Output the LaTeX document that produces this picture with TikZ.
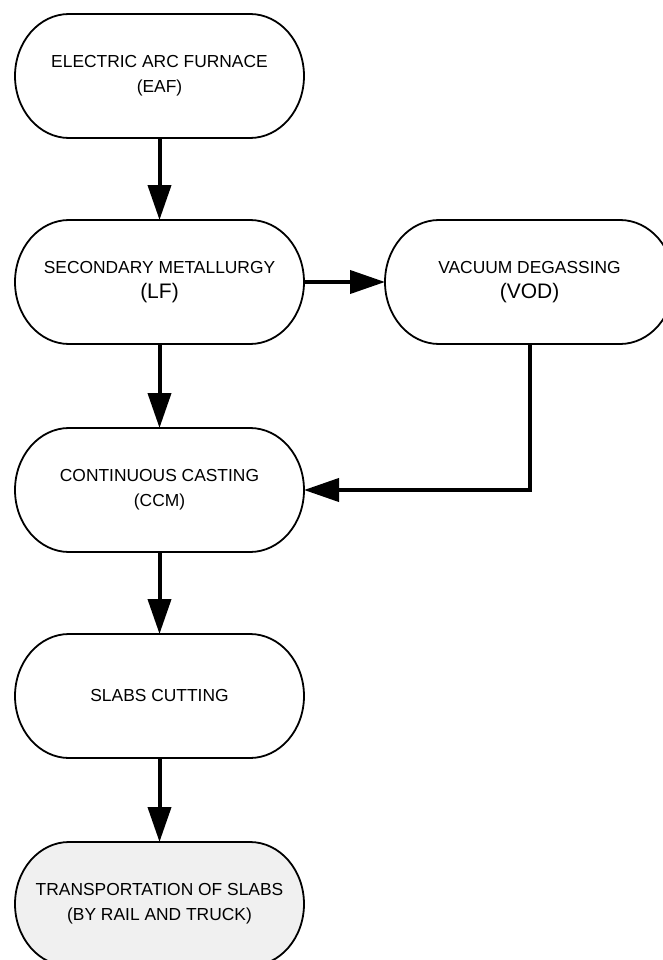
\documentclass[tikz,border=0pt]{standalone}
\usepackage{fontspec}
\setmainfont{Liberation Sans}
\usetikzlibrary{arrows.meta}
\pgfdeclarelayer{background}
\pgfsetlayers{background,main}
\definecolor{lightfill}{HTML}{F0F0F0}
\newcommand\drawstad[2]{%
  \begin{pgfonlayer}{background}
  \draw[line width=1.8pt, fill=#2] ([xshift=54pt]#1.north west) -- ([xshift=-54pt]#1.north east)
    arc[start angle=90, end angle=-90, x radius=54pt, y radius=62pt]
    -- ([xshift=54pt]#1.south west)
    arc[start angle=270, end angle=90, x radius=54pt, y radius=62pt] -- cycle;
  \end{pgfonlayer}}
\tikzset{
  stad/.style={minimum width=289pt, minimum height=124pt, inner sep=0pt, outer sep=0pt,
    align=center, font=\fontsize{17.4}{25}\selectfont},
  arr/.style={line width=4pt, -{Triangle[length=35pt,width=23pt]}}
}
\begin{document}
\begin{tikzpicture}[x=1pt,y=-1pt]
\useasboundingbox (0,0) rectangle (663,960);
\node[stad] (eaf) at (159.5,76) {ELECTRIC ARC FURNACE\\(EAF)};
\node[stad] (lf) at (159.5,282) {SECONDARY METALLURGY\\{\fontsize{21}{25}\selectfont (LF)}};
\node[stad] (vod) at (529.5,282) {VACUUM DEGASSING\\{\fontsize{21}{25}\selectfont (VOD)}};
\node[stad] (ccm) at (159.5,490) {CONTINUOUS CASTING\\(CCM)};
\node[stad] (sc) at (159.5,696) {SLABS CUTTING};
\node[stad] (tr) at (159.5,904) {TRANSPORTATION OF SLABS\\(BY RAIL AND TRUCK)};
\drawstad{eaf}{white}
\drawstad{lf}{white}
\drawstad{vod}{white}
\drawstad{ccm}{white}
\drawstad{sc}{white}
\drawstad{tr}{lightfill}
\draw[arr] (eaf.south) -- (lf.north);
\draw[arr] (lf.east) -- (vod.west);
\draw[arr] (lf.south) -- (ccm.north);
\draw[arr] (vod.south) |- (ccm.east);
\draw[arr] (ccm.south) -- (sc.north);
\draw[arr] (sc.south) -- (tr.north);
\end{tikzpicture}
\end{document}
